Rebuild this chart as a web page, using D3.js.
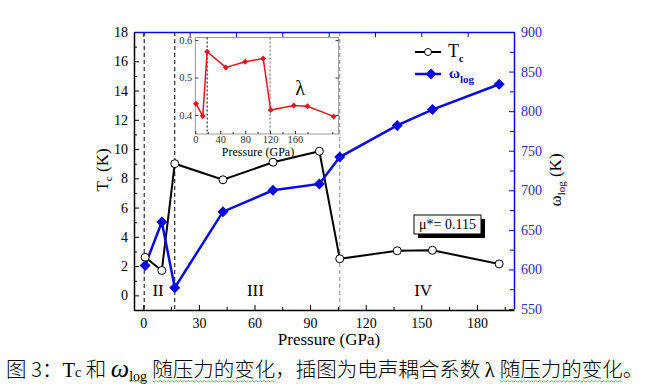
<!DOCTYPE html>
<html>
<head>
<meta charset="utf-8">
<script src="https://cdn.jsdelivr.net/npm/d3@7"></script>
<style>
  body { margin: 0; background: #fff; }
  svg { display: block; }
  svg text { font-family: "Liberation Serif", "Times New Roman", "DejaVu Serif", serif; }
  svg text .cjk, svg text.cjk { font-family: "Noto Sans CJK SC", sans-serif; font-weight: 300; }
</style>
</head>
<body>
<div id="chart"></div>
<script>
// main chart data
const pressure = [1, 10, 17, 43, 70, 95, 106, 137, 156, 192];
const tc = [2.6, 1.7, 9.0, 7.9, 9.1, 9.85, 2.5, 3.05, 3.08, 2.15];
const omegaLog = [605, 660, 577, 673, 700, 708, 742, 782, 802, 834];
const phaseBounds = [0.5, 17, 106];
const phaseLabels = [
  { text: 'II', p: 8 },
  { text: 'III', p: 60.5 },
  { text: 'IV', p: 151 },
];

// inset data (read against the inset's own pressure axis)
const insetPressure = [1, 12, 19, 49, 80, 109, 121, 158, 180, 222];
const lambda = [0.430, 0.397, 0.569, 0.527, 0.542, 0.551, 0.413, 0.425, 0.423, 0.396];
const insetBounds = [19, 120];

const xTicks = d3.range(0, 181, 30);
const tcTicks = d3.range(0, 19, 2);
const omegaTicks = d3.range(550, 901, 50);

const blue = '#0a0ae0';
const width = 652;
const height = 388;

const svg = d3.select('#chart').append('svg')
  .attr('width', width)
  .attr('height', height);

const frame = { left: 134, right: 514, top: 32, bottom: 310 };

const x = d3.scaleLinear().domain([-5, 200]).range([frame.left, frame.right]);
const yT = d3.scaleLinear().domain([-1, 18]).range([frame.bottom, frame.top]);
const yW = d3.scaleLinear().domain([550, 900]).range([frame.bottom - 1, frame.top]);

// phase boundaries
svg.append('g')
  .selectAll('line')
  .data(phaseBounds)
  .join('line')
  .attr('x1', d => x(d)).attr('x2', d => x(d))
  .attr('y1', frame.top).attr('y2', frame.bottom)
  .attr('stroke', (d, i) => i === 2 ? '#888' : '#000')
  .attr('stroke-width', 1)
  .attr('stroke-dasharray', '4,3');

// bottom axis
svg.append('g')
  .attr('transform', `translate(0,${frame.bottom})`)
  .call(d3.axisBottom(x).tickValues(xTicks).tickSize(-5).tickSizeOuter(0).tickPadding(8))
  .call(g => g.select('.domain').attr('stroke-width', 1.5));
svg.append('g')
  .attr('transform', `translate(0,${frame.bottom})`)
  .call(d3.axisBottom(x).tickValues(d3.range(15, 200, 30)).tickSize(-3).tickFormat(''))
  .call(g => g.select('.domain').remove());

// left axis
svg.append('g')
  .attr('transform', `translate(${frame.left},0)`)
  .call(d3.axisLeft(yT).tickValues(tcTicks).tickSize(-5).tickSizeOuter(0).tickPadding(6))
  .call(g => g.select('.domain').attr('stroke-width', 1.5));
svg.append('g')
  .attr('transform', `translate(${frame.left},0)`)
  .call(d3.axisLeft(yT).tickValues(d3.range(-1, 18, 2)).tickSize(-3).tickFormat(''))
  .call(g => g.select('.domain').remove());

// right axis (blue)
svg.append('g')
  .attr('transform', `translate(${frame.right},0)`)
  .call(d3.axisRight(yW).tickValues(omegaTicks).tickSize(-5).tickSizeOuter(0).tickPadding(7))
  .call(g => g.select('.domain').attr('stroke', blue).attr('stroke-width', 1.5))
  .call(g => g.selectAll('.tick line').attr('stroke', blue))
  .call(g => g.selectAll('.tick text').attr('fill', '#2a2acc'));
svg.append('g')
  .attr('transform', `translate(${frame.right},0)`)
  .call(d3.axisRight(yW).tickValues(d3.range(575, 900, 50)).tickSize(-4).tickFormat(''))
  .call(g => g.select('.domain').remove())
  .call(g => g.selectAll('.tick line').attr('stroke', blue));

// top axis (blue)
svg.append('g')
  .attr('transform', `translate(0,${frame.top})`)
  .call(d3.axisTop(x).tickValues(d3.range(0, 201, 25)).tickSize(-5).tickSizeOuter(0).tickFormat(''))
  .call(g => g.select('.domain').attr('stroke', blue).attr('stroke-width', 1.5))
  .call(g => g.selectAll('.tick line').attr('stroke', blue));

// d3 axes put font-family="sans-serif" on their groups; drop it so the css serif applies
svg.selectAll('g').attr('font-family', null);
svg.selectAll('.tick text').attr('font-size', 14);

// axis titles
svg.append('text')
  .attr('x', (frame.left + frame.right) / 2 + 5)
  .attr('y', 345)
  .attr('text-anchor', 'middle')
  .attr('font-size', 17)
  .text('Pressure (GPa)');

const tcTitle = svg.append('text')
  .attr('transform', 'translate(108,170) rotate(-90)')
  .attr('text-anchor', 'middle')
  .attr('font-size', 17);
tcTitle.append('tspan').text('T');
tcTitle.append('tspan').attr('font-size', 11).attr('dy', 4).text('c');
tcTitle.append('tspan').attr('dy', -4).text(' (K)');

const wTitle = svg.append('text')
  .attr('transform', 'translate(561,180) rotate(-90)')
  .attr('text-anchor', 'middle')
  .attr('font-size', 17);
wTitle.append('tspan').text('ω');
wTitle.append('tspan').attr('font-size', 11).attr('dy', 4).text('log');
wTitle.append('tspan').attr('dy', -4).text(' (K)');

// phase labels
svg.append('g')
  .selectAll('text')
  .data(phaseLabels)
  .join('text')
  .attr('x', d => x(d.p))
  .attr('y', 296)
  .attr('text-anchor', 'middle')
  .attr('font-size', 17)
  .text(d => d.text);

// series
const tcPoints = pressure.map((p, i) => [p, tc[i]]);
const wPoints = pressure.map((p, i) => [p, omegaLog[i]]);
const diamond = 'M0,-5.5L5.5,0L0,5.5L-5.5,0Z';

svg.append('path')
  .datum(tcPoints)
  .attr('fill', 'none')
  .attr('stroke', '#000')
  .attr('stroke-width', 2)
  .attr('d', d3.line().x(d => x(d[0])).y(d => yT(d[1])));

svg.append('path')
  .datum(wPoints)
  .attr('fill', 'none')
  .attr('stroke', blue)
  .attr('stroke-width', 2.5)
  .attr('d', d3.line().x(d => x(d[0])).y(d => yW(d[1])));

svg.append('g')
  .selectAll('circle')
  .data(tcPoints)
  .join('circle')
  .attr('cx', d => x(d[0]))
  .attr('cy', d => yT(d[1]))
  .attr('r', 4)
  .attr('fill', '#fff')
  .attr('stroke', '#000')
  .attr('stroke-width', 1);

svg.append('g')
  .selectAll('path')
  .data(wPoints)
  .join('path')
  .attr('transform', d => `translate(${x(d[0])},${yW(d[1])})`)
  .attr('d', diamond)
  .attr('fill', blue);

// legend
const legend = svg.append('g');
legend.append('line').attr('x1', 415).attr('x2', 441).attr('y1', 52).attr('y2', 52)
  .attr('stroke', '#000').attr('stroke-width', 2);
legend.append('circle').attr('cx', 428).attr('cy', 52).attr('r', 3.5)
  .attr('fill', '#fff').attr('stroke', '#000');
const tcLeg = legend.append('text').attr('x', 448).attr('y', 57).attr('font-size', 18);
tcLeg.append('tspan').text('T');
tcLeg.append('tspan').attr('font-size', 10).attr('font-weight', 'bold').attr('dy', 5).text('c');

legend.append('line').attr('x1', 415).attr('x2', 441).attr('y1', 74).attr('y2', 74)
  .attr('stroke', blue).attr('stroke-width', 2.5);
legend.append('path').attr('transform', 'translate(431,74)').attr('d', diamond).attr('fill', blue);
const wLeg = legend.append('text').attr('x', 449).attr('y', 78).attr('font-size', 15)
  .attr('font-weight', 'bold').attr('fill', blue);
wLeg.append('tspan').text('ω');
wLeg.append('tspan').attr('font-size', 11).attr('dy', 5).text('log');

// mu* box
svg.append('rect').attr('x', 418).attr('y', 219).attr('width', 67).attr('height', 19).attr('fill', '#000');
svg.append('rect').attr('x', 414).attr('y', 215).attr('width', 67).attr('height', 19)
  .attr('fill', '#fff').attr('stroke', '#000').attr('stroke-width', 1);
svg.append('text').attr('x', 447.5).attr('y', 229).attr('text-anchor', 'middle')
  .attr('font-size', 14).text('μ*= 0.115');

// inset
const ix = d3.scaleLinear().domain([0, 230]).range([195.3, 338.6]);
const iy = d3.scaleLinear().domain([0.349, 0.607]).range([134, 37.5]);
const inset = svg.append('g');

inset.append('rect')
  .attr('x', ix.range()[0]).attr('y', iy.range()[1])
  .attr('width', ix.range()[1] - ix.range()[0])
  .attr('height', iy.range()[0] - iy.range()[1])
  .attr('fill', '#fff').attr('stroke', '#999').attr('stroke-width', 1);

inset.append('g')
  .selectAll('line')
  .data(insetBounds)
  .join('line')
  .attr('x1', d => ix(d)).attr('x2', d => ix(d))
  .attr('y1', iy.range()[1]).attr('y2', iy.range()[0])
  .attr('stroke', (d, i) => i === 1 ? '#666' : '#000')
  .attr('stroke-dasharray', '2,2');

inset.append('g')
  .attr('transform', `translate(0,${iy.range()[0]})`)
  .call(d3.axisBottom(ix).tickValues([0, 40, 80, 120, 160]).tickSize(-3).tickPadding(2))
  .call(g => g.select('.domain').remove())
  .call(g => g.selectAll('.tick line').attr('stroke', '#333'));
inset.append('g')
  .attr('transform', `translate(0,${iy.range()[0]})`)
  .call(d3.axisBottom(ix).tickValues(d3.range(20, 230, 20).filter(v => v % 40)).tickSize(-2).tickFormat(''))
  .call(g => g.select('.domain').remove())
  .call(g => g.selectAll('.tick line').attr('stroke', '#333'));
inset.append('g')
  .attr('transform', `translate(${ix.range()[0]},0)`)
  .call(d3.axisLeft(iy).tickValues([0.4, 0.5, 0.6]).tickSize(-3).tickPadding(3).tickFormat(d3.format('.1f')))
  .call(g => g.select('.domain').remove())
  .call(g => g.selectAll('.tick line').attr('stroke', '#333'));
inset.append('g')
  .attr('transform', `translate(${ix.range()[1]},0)`)
  .call(d3.axisRight(iy).tickValues([0.4, 0.5, 0.6]).tickSize(-3).tickFormat(''))
  .call(g => g.select('.domain').remove())
  .call(g => g.selectAll('.tick line').attr('stroke', '#333'));

inset.selectAll('g').attr('font-family', null);
inset.selectAll('.tick text')
  .attr('font-size', 10.5)
  .attr('fill', '#333');

inset.append('text')
  .attr('x', 258).attr('y', 156)
  .attr('text-anchor', 'middle')
  .attr('font-size', 12)
  .text('Pressure (GPa)');

const lamPoints = insetPressure.map((p, i) => [p, lambda[i]]);
inset.append('path')
  .datum(lamPoints)
  .attr('fill', 'none')
  .attr('stroke', '#e8141c')
  .attr('stroke-width', 1.5)
  .attr('d', d3.line().x(d => ix(d[0])).y(d => iy(d[1])));
inset.append('g')
  .selectAll('path')
  .data(lamPoints)
  .join('path')
  .attr('transform', d => `translate(${ix(d[0])},${iy(d[1])})`)
  .attr('d', 'M0,-3L3,0L0,3L-3,0Z')
  .attr('fill', '#e8141c');

inset.append('text')
  .attr('x', 300).attr('y', 95)
  .attr('text-anchor', 'middle')
  .attr('font-size', 20)
  .text('λ');

// caption
const cap = svg.append('text')
  .attr('x', 6).attr('y', 377)
  .attr('font-size', 20.5);
cap.append('tspan').attr('class', 'cjk').text('图 3：');
cap.append('tspan').text('T');
cap.append('tspan').attr('font-size', 14).text('c');
cap.append('tspan').attr('class', 'cjk').text(' 和 ');
cap.append('tspan').attr('font-style', 'italic').attr('font-size', 26).text('ω');
cap.append('tspan').attr('class', 'sq').attr('font-size', 14).attr('dy', 4).text('log');
cap.append('tspan').attr('dy', -4).text(' ');
cap.append('tspan').attr('class', 'cjk sq').text('随压力的变化');
cap.append('tspan').attr('class', 'cjk').text('，插图为电声耦合系数 ');
cap.append('tspan').text('λ');
cap.append('tspan').text(' ');
cap.append('tspan').attr('class', 'cjk sq').text('随压力的变化');
cap.append('tspan').attr('class', 'cjk').text('。');

// word-processor spell-check squiggles under the caption
cap.selectAll('tspan.sq').each(function () {
  const b = this.getBBox();
  const pts = d3.range(b.x, b.x + b.width, 2).map((px, i) => [px, 381 + (i % 2 ? 1 : -0.5)]);
  svg.append('path')
    .attr('d', d3.line()(pts))
    .attr('fill', 'none')
    .attr('stroke', '#4aa04a')
    .attr('stroke-width', 0.8);
});
</script>
</body>
</html>
